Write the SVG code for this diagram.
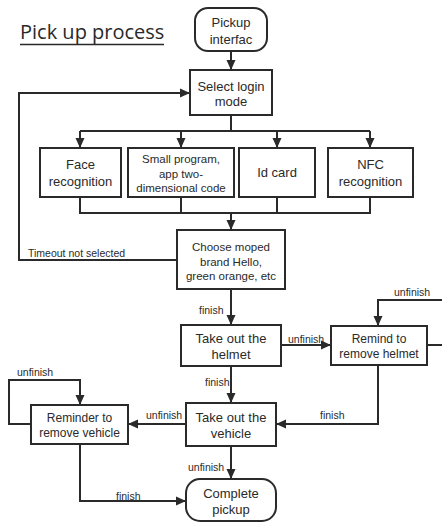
<svg xmlns="http://www.w3.org/2000/svg" width="442" height="522" viewBox="0 0 442 522">
<style>
.box{fill:#fff;stroke:#2a2a2a;stroke-width:2}
.t{font-family:"Liberation Sans",Arial,sans-serif;font-size:13px;fill:#2a2a2a;text-anchor:middle}
.s{font-size:12px}
.xs{font-size:11.5px}
.lbl{font-family:"Liberation Sans",Arial,sans-serif;font-size:10.5px;fill:#2a2a2a}
.c{fill:none;stroke:#2a2a2a;stroke-width:2}
.a{marker-end:url(#ah)}
</style>
<defs>
<marker id="ah" markerUnits="userSpaceOnUse" markerWidth="10" markerHeight="10" viewBox="0 0 10 10" refX="10" refY="5" orient="auto">
<path d="M0,0.5 L10,5 L0,9.5 Z" fill="#2a2a2a"/>
</marker>
</defs>
<rect width="442" height="522" fill="#fff"/>
<g id="title">
<text x="20" y="39" font-family="'Open Sans','Noto Sans',sans-serif" font-size="20" fill="#2a2a2a">Pick up process</text>
<line x1="20" y1="44.5" x2="164" y2="44.5" stroke="#2a2a2a" stroke-width="1.5"/>
</g>
<g id="connectors">
<line class="c a" x1="231" y1="51" x2="231" y2="70"/>
<polyline class="c" points="231,115 231,131"/>
<polyline class="c" points="80,131 370,131"/>
<line class="c a" x1="80" y1="131" x2="80" y2="148"/>
<line class="c a" x1="181" y1="131" x2="181" y2="148"/>
<line class="c a" x1="277" y1="131" x2="277" y2="148"/>
<line class="c a" x1="370" y1="131" x2="370" y2="148"/>
<line class="c" x1="80" y1="197" x2="80" y2="213"/>
<line class="c" x1="181" y1="197" x2="181" y2="213"/>
<line class="c" x1="277" y1="197" x2="277" y2="213"/>
<line class="c" x1="370" y1="197" x2="370" y2="213"/>
<line class="c" x1="79" y1="213" x2="371" y2="213"/>
<line class="c a" x1="231" y1="213" x2="231" y2="230"/>
<polyline class="c a" points="177,260 19,260 19,93 190,93"/>
<text class="lbl" x="28" y="257">Timeout not selected</text>
<line class="c a" x1="231" y1="289" x2="231" y2="325"/>
<text class="lbl" x="199" y="314">finish</text>
<line class="c a" x1="281" y1="345" x2="331" y2="345"/>
<text class="lbl" x="288" y="343">unfinish</text>
<line class="c" x1="427" y1="345" x2="443" y2="345"/>
<polyline class="c a" points="443,300 378,300 378,326"/>
<text class="lbl" x="394" y="296">unfinish</text>
<polyline class="c a" points="378,365 378,424 276,424"/>
<text class="lbl" x="320" y="419">finish</text>
<line class="c a" x1="231" y1="366" x2="231" y2="403"/>
<text class="lbl" x="205" y="386">finish</text>
<line class="c a" x1="186" y1="424" x2="128" y2="424"/>
<text class="lbl" x="146" y="419">unfinish</text>
<polyline class="c a" points="31,424 9,424 9,380 80,380 80,405"/>
<text class="lbl" x="17" y="376">unfinish</text>
<line class="c a" x1="231" y1="446" x2="231" y2="479"/>
<text class="lbl" x="188" y="471">unfinish</text>
<polyline class="c a" points="80,444 80,501 186,501"/>
<text class="lbl" x="116" y="500">finish</text>
</g>
<g id="pickup-interface">
<rect class="box" x="195" y="8" width="72" height="43" rx="13"/>
<text class="t" x="231" y="27">Pickup</text>
<text class="t" x="231" y="44">interfac</text>
</g>
<g id="select-login">
<rect class="box" x="190" y="70" width="82" height="45"/>
<text class="t" x="231" y="90.5">Select login</text>
<text class="t" x="231" y="106">mode</text>
</g>
<g id="face">
<rect class="box" x="40" y="148" width="81" height="49"/>
<text class="t" x="80.5" y="169">Face</text>
<text class="t" x="80.5" y="186">recognition</text>
</g>
<g id="small-program">
<rect class="box" x="128" y="148" width="106" height="49"/>
<text class="t xs" x="181" y="163">Small program,</text>
<text class="t xs" x="181" y="177.5">app two-</text>
<text class="t xs" x="181" y="192">dimensional code</text>
</g>
<g id="id-card">
<rect class="box" x="239" y="148" width="76" height="49"/>
<text class="t" x="277" y="177">Id card</text>
</g>
<g id="nfc">
<rect class="box" x="328" y="148" width="85" height="49"/>
<text class="t" x="370.5" y="169">NFC</text>
<text class="t" x="370.5" y="186">recognition</text>
</g>
<g id="choose-moped">
<rect class="box" x="177" y="230" width="108" height="59"/>
<text class="t xs" x="231" y="251">Choose moped</text>
<text class="t xs" x="231" y="265.5">brand Hello,</text>
<text class="t xs" x="231" y="280">green orange, etc</text>
</g>
<g id="take-helmet">
<rect class="box" x="181" y="325" width="100" height="41"/>
<text class="t" x="231" y="343">Take out the</text>
<text class="t" x="231" y="359">helmet</text>
</g>
<g id="remind-helmet">
<rect class="box" x="331" y="326" width="96" height="39"/>
<text class="t s" x="379" y="343">Remind to</text>
<text class="t s" x="379" y="357.5">remove helmet</text>
</g>
<g id="reminder-vehicle">
<rect class="box" x="31" y="405" width="97" height="39"/>
<text class="t s" x="79.5" y="421.5">Reminder to</text>
<text class="t s" x="79.5" y="436.5">remove vehicle</text>
</g>
<g id="take-vehicle">
<rect class="box" x="186" y="403" width="90" height="43"/>
<text class="t" x="231" y="421.5">Take out the</text>
<text class="t" x="231" y="438">vehicle</text>
</g>
<g id="complete">
<rect class="box" x="186" y="479" width="90" height="42" rx="14"/>
<text class="t" x="231" y="498">Complete</text>
<text class="t" x="231" y="514">pickup</text>
</g>
</svg>
